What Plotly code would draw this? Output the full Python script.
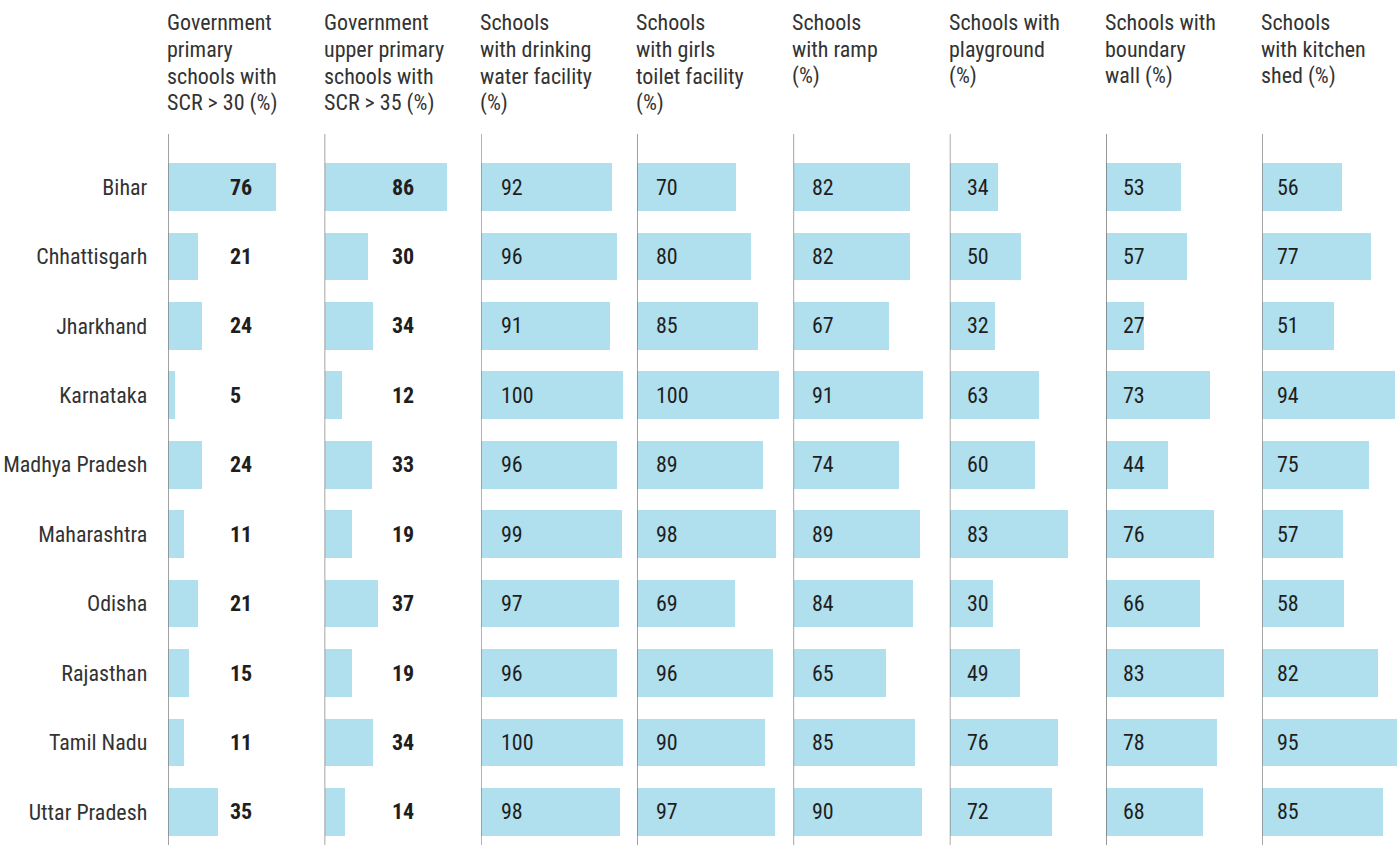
import plotly.graph_objects as go

states = ["Bihar", "Chhattisgarh", "Jharkhand", "Karnataka", "Madhya Pradesh",
          "Maharashtra", "Odisha", "Rajasthan", "Tamil Nadu", "Uttar Pradesh"]

headers = [
    "Government<br>primary<br>schools with<br>SCR > 30 (%)",
    "Government<br>upper primary<br>schools with<br>SCR > 35 (%)",
    "Schools<br>with drinking<br>water facility<br>(%)",
    "Schools<br>with girls<br>toilet facility<br>(%)",
    "Schools<br>with ramp<br>(%)",
    "Schools with<br>playground<br>(%)",
    "Schools with<br>boundary<br>wall (%)",
    "Schools<br>with kitchen<br>shed (%)",
]

scr_primary = [76, 21, 24, 5, 24, 11, 21, 15, 11, 35]
scr_upper = [86, 30, 34, 12, 33, 19, 37, 19, 34, 14]
drinking_water = [92, 96, 91, 100, 96, 99, 97, 96, 100, 98]
girls_toilet = [70, 80, 85, 100, 89, 98, 69, 96, 90, 97]
ramp = [82, 82, 67, 91, 74, 89, 84, 65, 85, 90]
playground = [34, 50, 32, 63, 60, 83, 30, 49, 76, 72]
boundary_wall = [53, 57, 27, 73, 44, 76, 66, 83, 78, 68]
kitchen_shed = [56, 77, 51, 94, 75, 57, 58, 82, 95, 85]

series = [scr_primary, scr_upper, drinking_water, girls_toilet,
          ramp, playground, boundary_wall, kitchen_shed]

# layout constants
W, H = 1399, 845
TOP = 134
FONT = "Liberation Sans Narrow, Arial Narrow, Roboto Condensed, DejaVu Sans Condensed, sans-serif"
BAR = "#b0dfee"
PX_PER_UNIT = 1.42
panel_start = [168.3 + 156.3 * i for i in range(8)]
label_shift = [59.5, 65.5, 18.5, 17, 16.5, 15.5, 14.5, 12.5]
bold_labels = [True, True, False, False, False, False, False, False]

row_px = 69.44
first_center = 187
y_top = -(first_center - TOP) / row_px
y_bot = 9 + (H - (first_center + 9 * row_px)) / row_px

fig = go.Figure()
annotations = []
shapes = []
layout_axes = {}

for i, vals in enumerate(series):
    ax = "" if i == 0 else str(i + 1)
    start = panel_start[i]
    end = min(start + 150, W)
    rng = (end - start) / PX_PER_UNIT
    fig.add_trace(go.Bar(
        x=vals, y=states, orientation="h",
        marker=dict(color=BAR, line=dict(width=0)),
        width=0.687, xaxis="x" + ax, yaxis="y",
        hoverinfo="x+y", showlegend=False,
    ))
    layout_axes["xaxis" + ax] = dict(
        domain=[start / W, end / W], range=[0, rng], visible=False,
        fixedrange=True, anchor="y",
    )
    shapes.append(dict(type="line", xref="x" + ax, yref="paper",
                       x0=0, x1=0, y0=0, y1=1,
                       line=dict(color="#6b6b6b", width=1.2)))
    for s, v in zip(states, vals):
        txt = f"<b>{v}</b>" if bold_labels[i] else str(v)
        annotations.append(dict(
            xref="x" + ax, yref="y", x=0, y=s, text=txt, showarrow=False,
            xanchor="left", yanchor="middle", xshift=label_shift[i],
            font=dict(family=FONT, size=22, color="#1e1e1e"),
        ))
    for j, line in enumerate(headers[i].split("<br>")):
        annotations.append(dict(
            xref="paper", yref="paper", x=start / W, y=1,
            text=line, showarrow=False, xanchor="left", yanchor="bottom",
            xshift=-3, yshift=(TOP - 37) - 27 * j,
            font=dict(family=FONT, size=22, color="#333333"),
        ))

fig.update_layout(
    width=W, height=H,
    margin=dict(l=0, r=0, t=TOP, b=0),
    paper_bgcolor="white", plot_bgcolor="white",
    bargap=0,
    yaxis=dict(
        categoryorder="array", categoryarray=states,
        range=[y_bot, y_top], anchor="x", showgrid=False, zeroline=False,
        showline=False, ticks="", ticklabelstandoff=20,
        tickfont=dict(family=FONT, size=22, color="#333333"),
        fixedrange=True,
    ),
    annotations=annotations, shapes=shapes,
    **layout_axes,
)

fig.write_html(
    "out.html",
    config={"displayModeBar": False},
    post_script="document.body.style.margin='0';document.body.style.padding='0';",
)
